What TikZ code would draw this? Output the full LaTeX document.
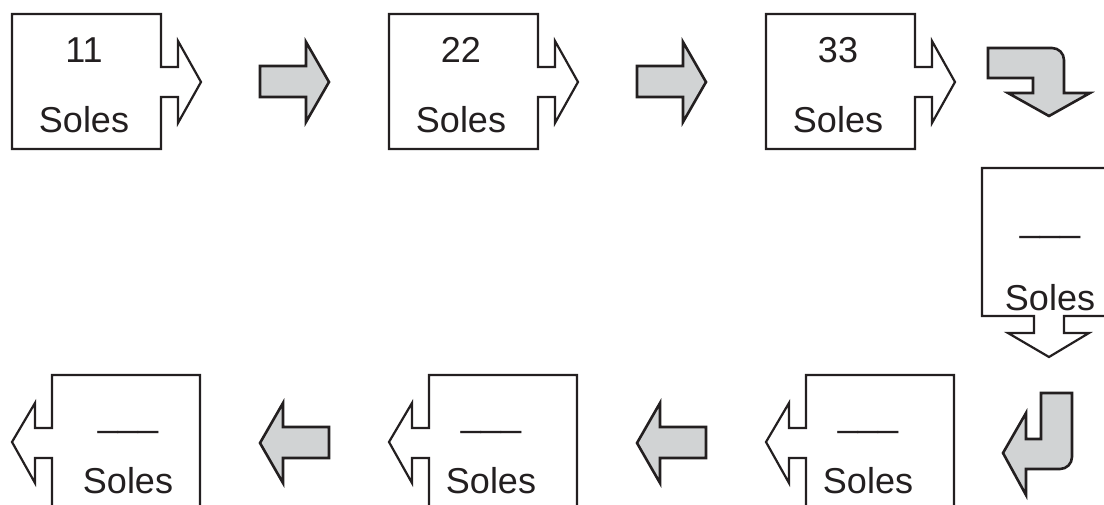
\documentclass[tikz,border=0pt]{standalone}
\usepackage{fontspec}
\setmainfont{Liberation Sans}
\definecolor{ink}{HTML}{231F20}
\definecolor{arrowgray}{HTML}{D1D3D4}
\begin{document}
\begin{tikzpicture}[x=1pt,y=-1pt,
  boxline/.style={draw=ink,line width=2.2pt,line join=miter,fill=white},
  grayarrow/.style={draw=ink,line width=2.6pt,line join=miter,fill=arrowgray},
  lbl/.style={anchor=base,inner sep=0pt,text=ink,font=\fontsize{36}{40}\selectfont}]
\useasboundingbox (0,0) rectangle (1104,504);
\begin{scope}
\clip (0,0) rectangle (1104,504);
% top row boxes with right notched arrows
\foreach \x in {12,389,766}{
  \draw[boxline] (\x,14) -- (\x+149,14) -- (\x+149,67) -- (\x+166,67) -- (\x+166,41)
    -- (\x+189,82) -- (\x+166,123) -- (\x+166,97) -- (\x+149,97) -- (\x+149,149)
    -- (\x,149) -- cycle;
}
% gray right arrows
\foreach \x in {0,377}{
  \draw[grayarrow] (\x+260,66) -- (\x+306,66) -- (\x+306,42) -- (\x+329,82)
    -- (\x+306,122) -- (\x+306,97) -- (\x+260,97) -- cycle;
}
% top-right bent arrow
\draw[grayarrow] (988,48) [rounded corners=12pt] -- (1064,48) [sharp corners] -- (1064,93)
  -- (1090,93) -- (1049,116) -- (1008,93) -- (1033,93) -- (1033,78) -- (988,78) -- cycle;
% vertical box with down arrow
\draw[boxline] (1115,168) -- (982,168) -- (982,316) -- (1034,316) -- (1034,333)
  -- (1008,333) -- (1049,357) -- (1089,333) -- (1064,333) -- (1064,316) -- (1115,316);
% bottom-right bent arrow
\draw[grayarrow] (1041,393) -- (1072,393) [rounded corners=12pt] -- (1072,469) [sharp corners]
  -- (1026,469) -- (1026,495) -- (1003,453) -- (1026,413) -- (1026,439) -- (1041,439) -- cycle;
% bottom row boxes with left notched arrows
\foreach \x in {52,429,806}{
  \draw[boxline] (\x,515) -- (\x,458) -- (\x-17,458) -- (\x-17,483) -- (\x-40,442)
    -- (\x-17,403) -- (\x-17,428) -- (\x,428) -- (\x,375) -- (\x+148,375) -- (\x+148,515);
}
% gray left arrows
\foreach \x in {0,377}{
  \draw[grayarrow] (\x+329,427) -- (\x+283,427) -- (\x+283,403) -- (\x+260,443)
    -- (\x+283,483) -- (\x+283,458) -- (\x+329,458) -- cycle;
}
\end{scope}
% labels
\node[lbl] (n1) at (84,62) {11};
\node[lbl] (s1) at (84,132) {Soles};
\node[lbl] (n2) at (461,62) {22};
\node[lbl] (s2) at (461,132) {Soles};
\node[lbl] (n3) at (838,62) {33};
\node[lbl] (s3) at (838,132) {Soles};
\node[lbl] (n4) at (1050,231) {\_\_\_};
\node[lbl] (s4) at (1050,310) {Soles};
\node[lbl] (n5) at (868,426) {\_\_\_};
\node[lbl] (s5) at (868,493) {Soles};
\node[lbl] (n6) at (491,426) {\_\_\_};
\node[lbl] (s6) at (491,493) {Soles};
\node[lbl] (n7) at (128,426) {\_\_\_};
\node[lbl] (s7) at (128,493) {Soles};
\end{tikzpicture}
\end{document}
